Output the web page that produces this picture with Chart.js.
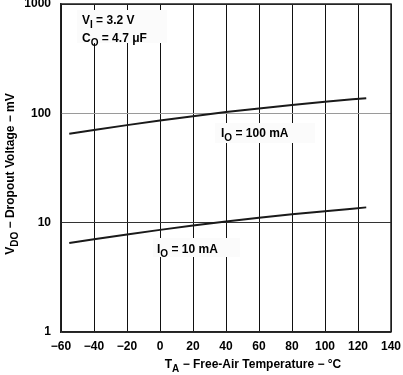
<!DOCTYPE html>
<html>
<head>
<meta charset="utf-8">
<script src="https://cdn.jsdelivr.net/npm/chart.js@4"></script>
<style>
  html, body { margin: 0; padding: 0; background: #fff; }
  #wrap { width: 403px; height: 375px; position: relative; }
</style>
</head>
<body>
<div id="wrap"><canvas id="c"></canvas></div>
<script>
"use strict";

const FONT = "'Liberation Sans', Arial, sans-serif";

// temperature (°C) and dropout voltage (mV)
const temps = [-55, -40, -20, 0, 20, 40, 60, 80, 100, 125];
const vdo100mA = [65.2, 70.5, 78.0, 85.9, 94.2, 102.6, 110.9, 119.1, 127.4, 137.7];
const vdo10mA = [6.51, 7.05, 7.80, 8.59, 9.42, 10.26, 11.09, 11.91, 12.74, 13.8];

const yTicks = [1, 10, 100, 1000];
const xMin = -60, xMax = 140, xStep = 20;

const pts = (ys) => temps.map((t, i) => ({ x: t, y: ys[i] }));

// text with subscripts: parts = [[text, isSub], ...]
function richWidth(ctx, parts) {
  let w = 0;
  for (const [t, sub] of parts) {
    ctx.font = "bold " + (sub ? 10 : 12) + "px " + FONT;
    w += ctx.measureText(t).width;
  }
  return w;
}

function drawRich(ctx, parts, x, y, align) {
  let cx = align === "center" ? x - richWidth(ctx, parts) / 2 : x;
  ctx.textAlign = "left";
  ctx.textBaseline = "alphabetic";
  ctx.fillStyle = "#000";
  for (const [t, sub] of parts) {
    ctx.font = "bold " + (sub ? 10 : 12) + "px " + FONT;
    ctx.fillText(t, cx, sub ? y + 4 : y);
    cx += ctx.measureText(t).width;
  }
}

const annotations = {
  id: "annotations",
  beforeDatasetsDraw(chart) {
    const ctx = chart.ctx;
    ctx.save();
    ctx.fillStyle = "#fbfbfb";
    ctx.fillRect(77, 10, 90, 33);
    ctx.fillRect(215, 123, 100, 20);
    ctx.fillRect(153, 238, 87, 19);
    ctx.restore();
  },
  afterDraw(chart) {
    const ctx = chart.ctx;
    ctx.save();
    drawRich(ctx, [["V", false], ["I", true], [" = 3.2 V", false]], 82, 24);
    drawRich(ctx, [["C", false], ["O", true], [" = 4.7 μF", false]], 82, 42);
    drawRich(ctx, [["I", false], ["O", true], [" = 100 mA", false]], 221, 137);
    drawRich(ctx, [["I", false], ["O", true], [" = 10 mA", false]], 157, 253);
    drawRich(ctx, [["T", false], ["A", true], [" − Free-Air Temperature − °C", false]], 253, 368, "center");
    ctx.translate(14, 174);
    ctx.rotate(-Math.PI / 2);
    drawRich(ctx, [["V", false], ["DO", true], [" − Dropout Voltage − mV", false]], 0, 0, "center");
    ctx.restore();
  },
};

const lineStyle = {
  borderColor: "#1a1a1a",
  borderWidth: 2,
  pointRadius: 0,
  cubicInterpolationMode: "monotone",
  fill: false,
};

new Chart(document.getElementById("c"), {
  type: "line",
  data: {
    datasets: [
      Object.assign({ label: "IO = 100 mA", data: pts(vdo100mA) }, lineStyle),
      Object.assign({ label: "IO = 10 mA", data: pts(vdo10mA) }, lineStyle),
    ],
  },
  options: {
    responsive: true,
    maintainAspectRatio: false,
    animation: false,
    layout: { padding: { top: 4, right: 12, left: 0, bottom: 0 } },
    plugins: { legend: { display: false }, tooltip: { enabled: false } },
    scales: {
      x: {
        type: "linear",
        min: xMin,
        max: xMax,
        ticks: {
          stepSize: xStep,
          color: "#000",
          padding: 7,
          maxRotation: 0,
          font: { family: FONT, size: 12, weight: "bold" },
          callback: (v) => (v < 0 ? "−" + Math.abs(v) : String(v)),
        },
        grid: { color: "#111", lineWidth: 1, drawTicks: false },
        border: { color: "#222", width: 1.5 },
        afterFit(s) { s.height = 43; s.paddingLeft = 0; s.paddingRight = 0; },
      },
      y: {
        type: "logarithmic",
        min: 1,
        max: 1000,
        afterBuildTicks(s) { s.ticks = yTicks.map((v) => ({ value: v })); },
        ticks: {
          color: "#000",
          padding: 10,
          font: { family: FONT, size: 12, weight: "bold" },
          callback: (v) => String(v),
        },
        grid: {
          drawTicks: false,
          lineWidth: 1,
          color: (c) => (c.tick && c.tick.value === 100 ? "#9a9a9a" : "#333"),
        },
        border: { color: "#222", width: 1.5 },
        afterFit(s) { s.width = 61; s.paddingTop = 0; s.paddingBottom = 0; },
      },
    },
  },
  plugins: [
    annotations,
    {
      id: "frame",
      afterDatasetsDraw(chart) {
        const a = chart.chartArea, ctx = chart.ctx;
        ctx.save();
        ctx.strokeStyle = "#222";
        ctx.lineWidth = 1.5;
        ctx.beginPath();
        ctx.moveTo(a.left, a.top);
        ctx.lineTo(a.right, a.top);
        ctx.lineTo(a.right, a.bottom);
        ctx.stroke();
        ctx.restore();
      },
    },
  ],
});
</script>
</body>
</html>
